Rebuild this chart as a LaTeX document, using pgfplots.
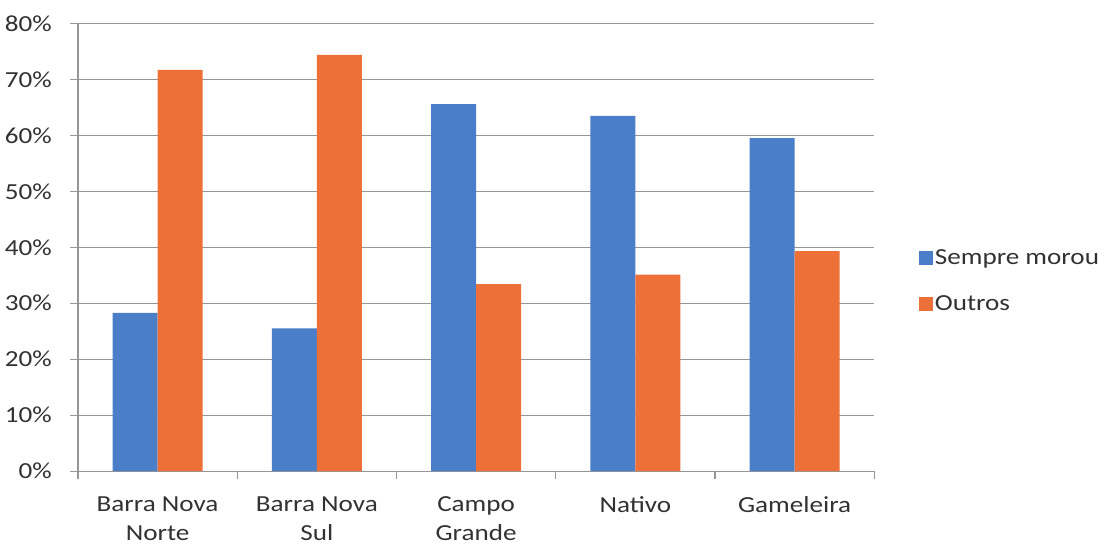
\documentclass[border=0pt]{standalone}
\usepackage{fontspec}
\setmainfont{Carlito}[FakeStretch=1.18]
\usepackage{pgfplots}
\pgfplotsset{compat=1.18}
\definecolor{serieA}{RGB}{74,126,200}
\definecolor{serieB}{RGB}{237,112,56}
\definecolor{gridc}{RGB}{150,150,150}
\definecolor{textc}{RGB}{50,50,50}
\begin{document}
\begin{tikzpicture}
\begin{axis}[
  scale only axis,
  width=797pt, height=448pt,
  font=\fontsize{23}{29}\selectfont,
  text=textc,
  ybar=0pt, bar width=45pt,
  xmin=-0.5, xmax=4.5,
  ymin=0, ymax=80,
  xtick={0,1,2,3,4},
  xticklabels={{Barra Nova\\Norte},{Barra Nova\\Sul},{Campo\\Grande},Nativo,Gameleira},
  x tick style={draw=none},
  minor xtick={-0.5,0.5,1.5,2.5,3.5,4.5},
  minor x tick style={draw=gridc, line width=1.2pt},
  ytick={0,10,...,80},
  yticklabel={\pgfmathprintnumber{\tick}\%},
  /pgf/number format/assume math mode=true,
  tick align=outside,
  major tick length=8pt, minor tick length=8pt,
  y tick style={draw=gridc, line width=1.2pt},
  ymajorgrids=true,
  grid style={draw=gridc, line width=1.2pt},
  axis x line*=bottom, axis y line*=left,
  axis line style={draw=gridc, line width=1.2pt, -},
  xticklabel style={align=center, inner sep=0pt, yshift=-17pt, text=textc},
  yticklabel style={inner sep=0pt, xshift=-18pt, text=textc},
  legend style={draw=none, fill=none, at={(1.052,0.425)}, anchor=west,
    row sep=25pt, font=\fontsize{23}{25}\selectfont, text=textc},
  legend cell align=left,
  legend image code/.code={\fill[#1,draw=none] (0pt,-7pt) rectangle (14pt,7pt);},
]
\addplot[fill=serieA, draw=none] coordinates {(0,28.3) (1,25.5) (2,65.6) (3,63.5) (4,59.5)};
\addplot[fill=serieB, draw=none] coordinates {(0,71.7) (1,74.4) (2,33.4) (3,35.1) (4,39.3)};
\legend{Sempre morou, Outros}
\end{axis}
\path (current axis.south west) ++(-78pt,-74.5pt) rectangle ++(1104pt,546pt);
\end{tikzpicture}
\end{document}
